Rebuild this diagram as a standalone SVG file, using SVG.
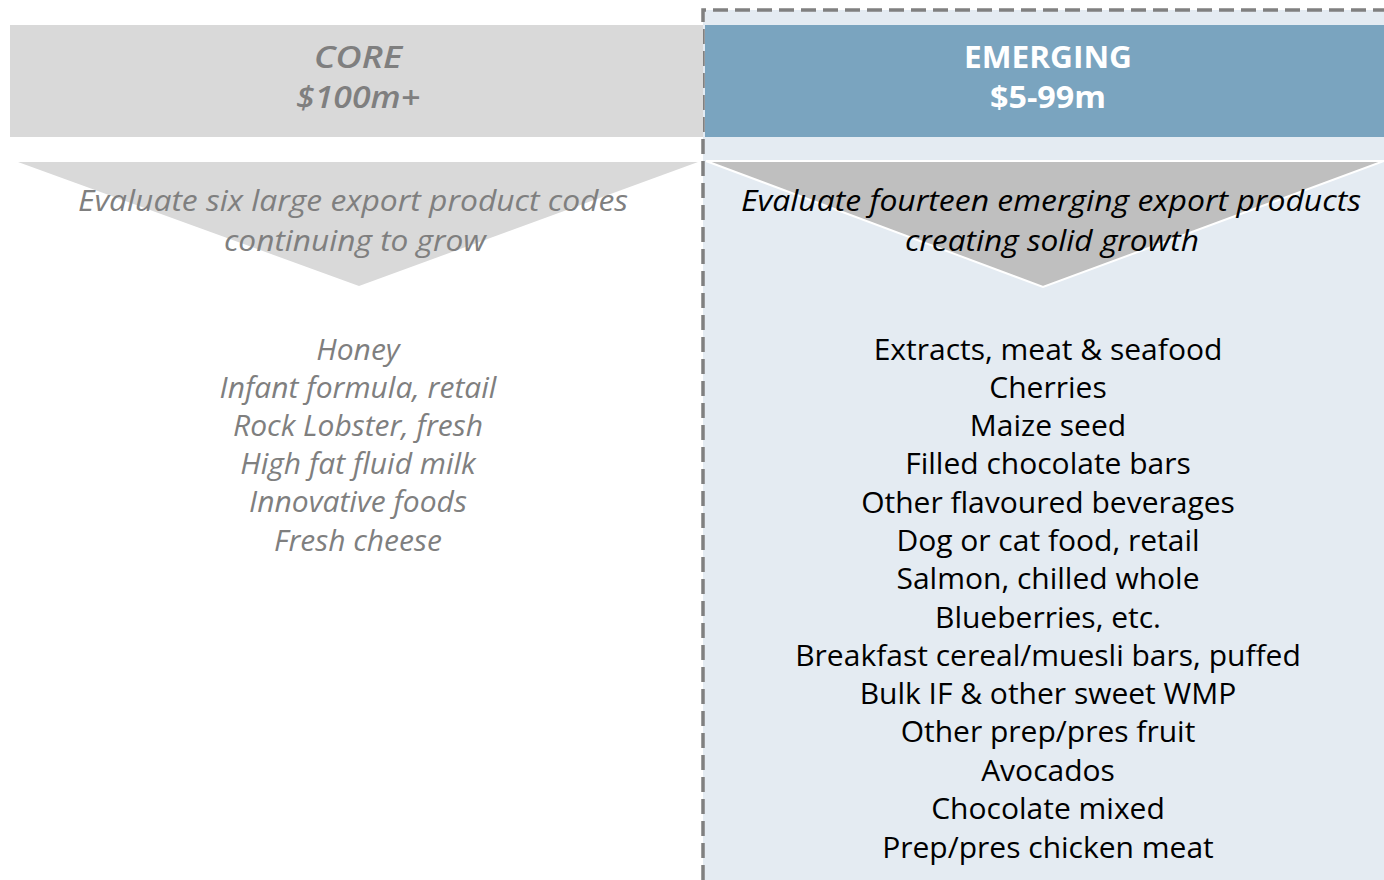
<svg xmlns="http://www.w3.org/2000/svg" width="1384" height="880" viewBox="0 0 1384 880">
<style>
.t{font-family:"Open Sans","Liberation Sans",sans-serif;text-anchor:middle}
.hdr{font-size:30px}
.core{fill:#7f7f7f;font-style:italic}
.em{fill:#000}
.list{font-size:30px}
.sub{font-size:29px;font-style:italic}
</style>
<rect width="1384" height="880" fill="#ffffff"/>
<g id="emerging-panel">
<rect x="703" y="10" width="690" height="880" fill="#e4ebf2"/>
<path d="M703 880 V10 H1384" fill="none" stroke="#808080" stroke-width="3.5" stroke-dasharray="15 7"/>
</g>
<g id="core-header">
<rect x="10" y="25" width="693" height="112" fill="#d9d9d9"/>
<text class="t hdr core" x="358" y="68" font-weight="600" textLength="88" lengthAdjust="spacingAndGlyphs">CORE</text>
<text class="t hdr core" x="358" y="108" font-weight="600" textLength="124" lengthAdjust="spacingAndGlyphs">$100m+</text>
</g>
<g id="emerging-header">
<rect x="705" y="25" width="679" height="112" fill="#7aa4bf"/>
<text class="t hdr" x="1048" y="68" fill="#ffffff" font-weight="bold" textLength="168" lengthAdjust="spacingAndGlyphs">EMERGING</text>
<text class="t hdr" x="1048" y="108" fill="#ffffff" font-weight="bold" textLength="116" lengthAdjust="spacingAndGlyphs">$5-99m</text>
</g>
<g id="core-arrow">
<polygon points="18,162 698,162 359,286" fill="#d9d9d9"/>
<text class="t sub core" x="353" y="211" textLength="550" lengthAdjust="spacingAndGlyphs">Evaluate six large export product codes</text>
<text class="t sub core" x="355" y="251" textLength="262" lengthAdjust="spacingAndGlyphs">continuing to grow</text>
</g>
<g id="emerging-arrow">
<polygon points="706,161 1384,161 1043,287" fill="#bfbfbf" stroke="#ffffff" stroke-width="2"/>
<text class="t sub em" x="1051" y="211" textLength="620" lengthAdjust="spacingAndGlyphs">Evaluate fourteen emerging export products</text>
<text class="t sub em" x="1052" y="251" textLength="294" lengthAdjust="spacingAndGlyphs">creating solid growth</text>
</g>
<g id="core-list" class="t list core">
<text x="358" y="360">Honey</text>
<text x="358" y="398">Infant formula, retail</text>
<text x="358" y="436">Rock Lobster, fresh</text>
<text x="358" y="474">High fat fluid milk</text>
<text x="358" y="512">Innovative foods</text>
<text x="358" y="551">Fresh cheese</text>
</g>
<g id="emerging-list" class="t list em">
<text x="1048" y="360">Extracts, meat &amp; seafood</text>
<text x="1048" y="398">Cherries</text>
<text x="1048" y="436">Maize seed</text>
<text x="1048" y="474">Filled chocolate bars</text>
<text x="1048" y="513">Other flavoured beverages</text>
<text x="1048" y="551">Dog or cat food, retail</text>
<text x="1048" y="589">Salmon, chilled whole</text>
<text x="1048" y="628">Blueberries, etc.</text>
<text x="1048" y="666">Breakfast cereal/muesli bars, puffed</text>
<text x="1048" y="704">Bulk IF &amp; other sweet WMP</text>
<text x="1048" y="742">Other prep/pres fruit</text>
<text x="1048" y="781">Avocados</text>
<text x="1048" y="819">Chocolate mixed</text>
<text x="1048" y="858">Prep/pres chicken meat</text>
</g>
</svg>
